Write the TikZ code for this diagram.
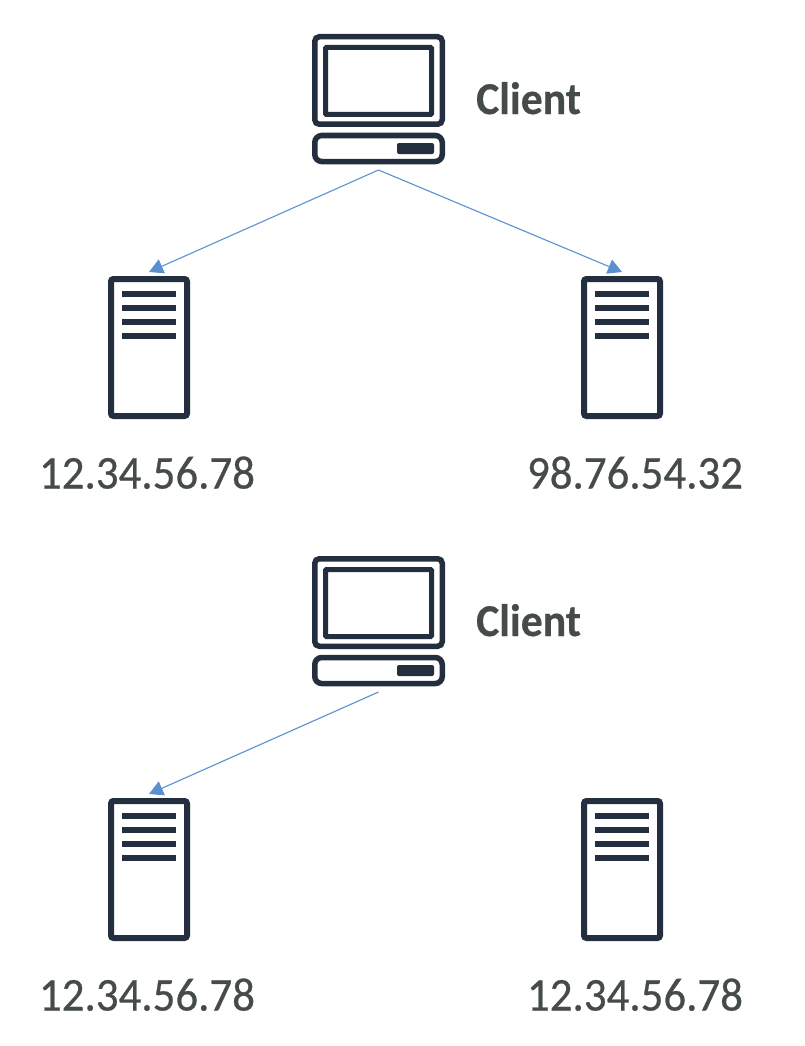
\documentclass[tikz,border=0pt]{standalone}
\usepackage{fontspec}
\setmainfont{Carlito}
\newfontfamily\iplabelfont[FakeStretch=0.955,FakeBold=0.5]{Carlito}
\newfontfamily\clientfont[FakeStretch=0.96,FakeBold=0.4]{Carlito Bold}
\usetikzlibrary{arrows.meta}
\definecolor{icondark}{HTML}{232F3E}
\definecolor{labelgrey}{HTML}{454B4B}
\definecolor{linkblue}{HTML}{5B8FD0}
\tikzset{
  iconframe/.style={draw=icondark,fill=white,line width=#1,outer sep=0pt,inner sep=0pt},
  iconframe/.default=5.5pt,
  barline/.style={draw=icondark,line width=5.5pt},
  iplabel/.style={font=\iplabelfont\fontsize{47}{50}\selectfont,text=labelgrey,anchor=base,inner sep=0pt},
  clientlabel/.style={font=\clientfont\fontsize{45.5}{50}\selectfont,text=labelgrey,anchor=base west,inner sep=0pt},
  link/.style={draw=linkblue,line width=1.1pt,-{Triangle[length=14pt,width=15pt]}},
  clienticon/.pic={
    \node[iconframe,minimum width=127.5pt,minimum height=87.5pt,rounded corners=4.5pt] (screen) at (378.5,80.5) {};
    \node[iconframe=5pt,minimum width=106pt,minimum height=67pt,rounded corners=1pt] (panel) at (378.5,81) {};
    \node[iconframe,minimum width=127.5pt,minimum height=26pt,rounded corners=7pt] (base) at (378.5,148.5) {};
    \node[fill=icondark,draw=none,minimum width=37pt,minimum height=11pt,inner sep=0pt,rounded corners=2pt] (button) at (415.5,148.5) {};
    \coordinate (out) at (378.5,170);
  },
  servericon/.pic={
    \node[iconframe=6pt,minimum width=76pt,minimum height=137pt,rounded corners=2.5pt] (case) at (0,347.5) {};
    \foreach \rowy in {294,308,322,336}
      \draw[barline] (-27,\rowy) -- (27,\rowy);
    \coordinate (in) at (0,272);
  },
}
\begin{document}
\begin{tikzpicture}[x=1pt,y=-1pt]
  \useasboundingbox (0,0) rectangle (804,1046);

  % upper group: the client reaches two different addresses
  \pic (topclient) at (0,0) {clienticon};
  \node[clientlabel] (toplabel) at (476,114) {Client};
  \pic (topleft) at (149,0) {servericon};
  \pic (topright) at (622,0) {servericon};
  \node[iplabel] (topleftip) at (147,488.5) {12.34.56.78};
  \node[iplabel] (toprightip) at (635,488.5) {98.76.54.32};
  \draw[link] (topclientout) -- (topleftin);
  \draw[link] (topclientout) -- (toprightin);

  % lower group: the client reaches one of two servers sharing an address
  \pic (lowclient) at (0,522) {clienticon};
  \node[clientlabel] (lowlabel) at (476,636) {Client};
  \pic (lowleft) at (149,522) {servericon};
  \pic (lowright) at (622,522) {servericon};
  \node[iplabel] (lowleftip) at (147,1010.5) {12.34.56.78};
  \node[iplabel] (lowrightip) at (635,1010.5) {12.34.56.78};
  \draw[link] (lowclientout) -- (lowleftin);
\end{tikzpicture}
\end{document}
